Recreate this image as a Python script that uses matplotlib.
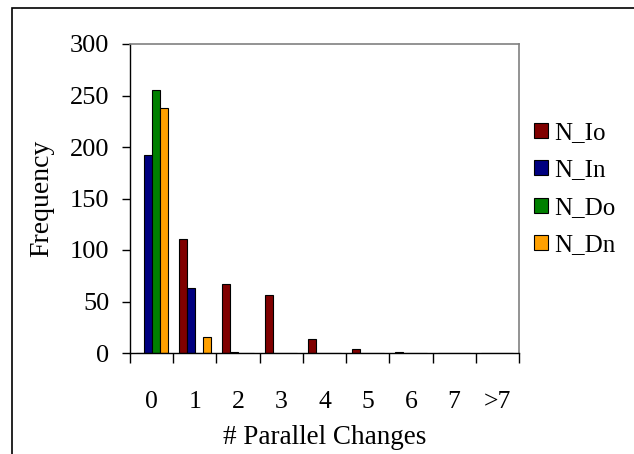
import matplotlib
matplotlib.use("Agg")
import matplotlib.pyplot as plt
import numpy as np
from matplotlib.patches import Rectangle

categories = ["0", "1", "2", "3", "4", "5", "6", "7", ">7"]
series_names = ["N_Io", "N_In", "N_Do", "N_Dn"]
n_io = [0, 111, 67, 56, 14, 4, 1, 0, 0]
n_in = [192, 63, 1, 0, 0, 0, 0, 0, 0]
n_do = [255, 0, 0, 0, 0, 0, 0, 0, 0]
n_dn = [238, 16, 0, 0, 0, 0, 0, 0, 0]
colors = ["#800000", "#000080", "#008000", "#FFA000"]
yticks = [0, 50, 100, 150, 200, 250, 300]

plt.rcParams['font.family'] = ['Liberation Serif', 'DejaVu Serif']

W, H = 634, 454
fig = plt.figure(figsize=(W/100, H/100), dpi=100)
# outer chart frame
fig.patches.append(Rectangle((12/W, -0.1), 1.2, 1 - 8/H + 0.1, transform=fig.transFigure,
                             fill=False, edgecolor='black', linewidth=1.2))

ax = fig.add_axes([130/W, 1 - 353/H, (519-130)/W, (353-44)/H])
x = np.arange(len(categories))
bw = 0.186
data = [n_io, n_in, n_do, n_dn]
handles = []
for i, (vals, c) in enumerate(zip(data, colors)):
    h = ax.bar(x + (i - 1.5) * bw, vals, width=bw, color=c, edgecolor='black', linewidth=0.8)
    handles.append(h)

ax.set_xlim(-0.5, len(categories) - 0.5)
ax.set_ylim(0, 300)
ax.set_yticks(yticks)
ax.tick_params(axis='y', direction='out', length=6, width=1, labelsize=19, pad=9)
ax.set_xticks(x)
ax.set_xticklabels(categories)
ax.tick_params(axis='x', length=0, labelsize=18.5, pad=27)
ax.set_xticks(np.arange(len(categories) + 1) - 0.5, minor=True)
ax.tick_params(axis='x', which='minor', direction='out', length=7, width=1)
for s in ['top', 'right']:
    ax.spines[s].set_color('#808080')
    ax.spines[s].set_linewidth(1.2)
ax.spines['left'].set_linewidth(1)
ax.spines['bottom'].set_linewidth(1)
ax.set_ylabel("Frequency", fontsize=20, labelpad=11)
ax.set_xlabel("# Parallel Changes", fontsize=19.5, labelpad=9)

leg = fig.legend(handles, series_names, loc='upper left', bbox_to_anchor=(524/W, 1 - 112/H),
                 frameon=False, fontsize=18, handlelength=0.55, handleheight=0.55,
                 handletextpad=0.25, labelspacing=0.62, borderaxespad=0)

fig.savefig("out.png", dpi=100)
